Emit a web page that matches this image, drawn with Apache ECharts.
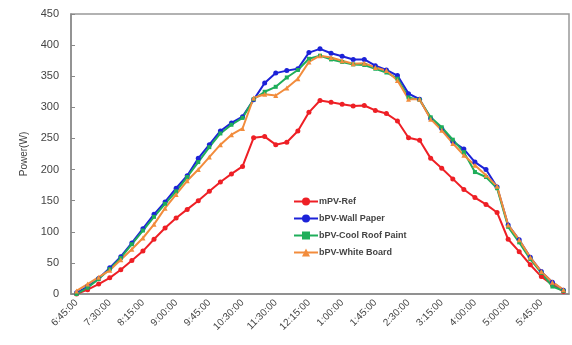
<!DOCTYPE html>
<html><head><meta charset="utf-8">
<script src="https://cdn.jsdelivr.net/npm/echarts@6/dist/echarts.min.js"></script>
<style>html,body{margin:0;padding:0;background:#fff}#c{width:572px;height:345px}</style>
</head><body><div id="c"></div>
<script>
const categories = ["6:45:00","7:00:00","7:15:00","7:30:00","7:45:00","8:00:00","8:15:00","8:30:00","8:45:00","9:00:00","9:15:00","9:30:00","9:45:00","10:00:00","10:15:00","10:30:00","10:50:00","11:10:00","11:30:00","11:45:00","12:00:00","12:15:00","12:30:00","12:45:00","1:00:00","1:15:00","1:30:00","1:45:00","2:00:00","2:15:00","2:30:00","2:45:00","3:00:00","3:15:00","3:30:00","3:45:00","4:00:00","4:20:00","4:40:00","5:00:00","5:15:00","5:30:00","5:45:00","6:00:00","6:15:00"];
const mpvRef = [0,7,16,26,39,54,69,88,106,122,136,150,165,180,193,205,251,253,240,244,262,292,311,308,305,302,303,295,290,278,251,247,218,202,185,168,155,144,131,88,68,47,28,15,4];
const wallPaper = [2,12,25,42,60,82,105,128,148,170,190,218,240,262,275,285,312,339,355,359,362,388,394,387,382,377,377,367,360,351,322,313,282,266,245,233,212,200,172,111,87,59,36,19,6];
const coolRoof = [0,10,24,40,58,80,102,124,145,165,188,212,236,258,272,283,313,325,333,348,360,378,383,377,373,369,368,362,356,346,316,312,284,268,248,228,196,188,170,108,83,56,34,12,5];
const whiteBoard = [5,16,27,38,55,72,90,112,138,160,182,200,220,240,256,266,315,321,319,331,346,373,383,380,375,370,371,364,359,343,313,313,281,263,242,223,207,191,173,111,87,59,36,19,7];
const yTicks = [0,50,100,150,200,250,300,350,400,450];

const chart = echarts.init(document.getElementById('c'));
function s(name, data, color, symbol, size){
  return {name, type:'line', data, symbol, symbolSize:size, showSymbol:true,
    lineStyle:{color, width:2}, itemStyle:{color}, emphasis:{disabled:true}};
}
chart.setOption({
  animation:false,
  grid:{left:71, top:14, right:3, bottom:51, show:true, borderColor:'#999', borderWidth:1.5},
  legend:{left:288, top:192, orient:'vertical', itemGap:8, itemWidth:24, itemHeight:10,
    textStyle:{fontSize:9, color:'#444', fontFamily:'Liberation Sans, Arial', fontWeight:'bold', padding:[0,0,0,-4]},
    data:[{name:'mPV-Ref'},{name:'bPV-Wall Paper'},{name:'bPV-Cool Roof Paint'},{name:'bPV-White Board'}]},
  xAxis:{type:'category', data:categories, boundaryGap:true,
    axisLine:{lineStyle:{color:'#888', width:1.5}},
    axisTick:{inside:true, length:4, interval:2, lineStyle:{color:'#888'}},
    axisLabel:{interval:2, rotate:45, fontSize:10, color:'#444', fontFamily:'Liberation Sans, Arial', margin:7}},
  yAxis:{type:'value', min:0, max:450, interval:50, name:'Power(W)', nameLocation:'middle', nameGap:40,
    nameTextStyle:{fontSize:10, color:'#444', fontFamily:'Liberation Sans, Arial'},
    axisLine:{show:true, lineStyle:{color:'#888', width:1.5}},
    axisTick:{show:true, inside:true, length:4, lineStyle:{color:'#888'}},
    splitLine:{show:false},
    axisLabel:{fontSize:11, color:'#444', fontFamily:'Liberation Sans, Arial', margin:12,
      formatter:v=>yTicks.includes(v)?String(v):''}},
  series:[
    s('mPV-Ref', mpvRef, '#ee1f25', 'circle', 5),
    s('bPV-Wall Paper', wallPaper, '#1c22d8', 'circle', 5),
    s('bPV-Cool Roof Paint', coolRoof, '#1fae5a', 'rect', 4),
    s('bPV-White Board', whiteBoard, '#f28c3c', 'triangle', 5)
  ]
});
</script></body></html>
